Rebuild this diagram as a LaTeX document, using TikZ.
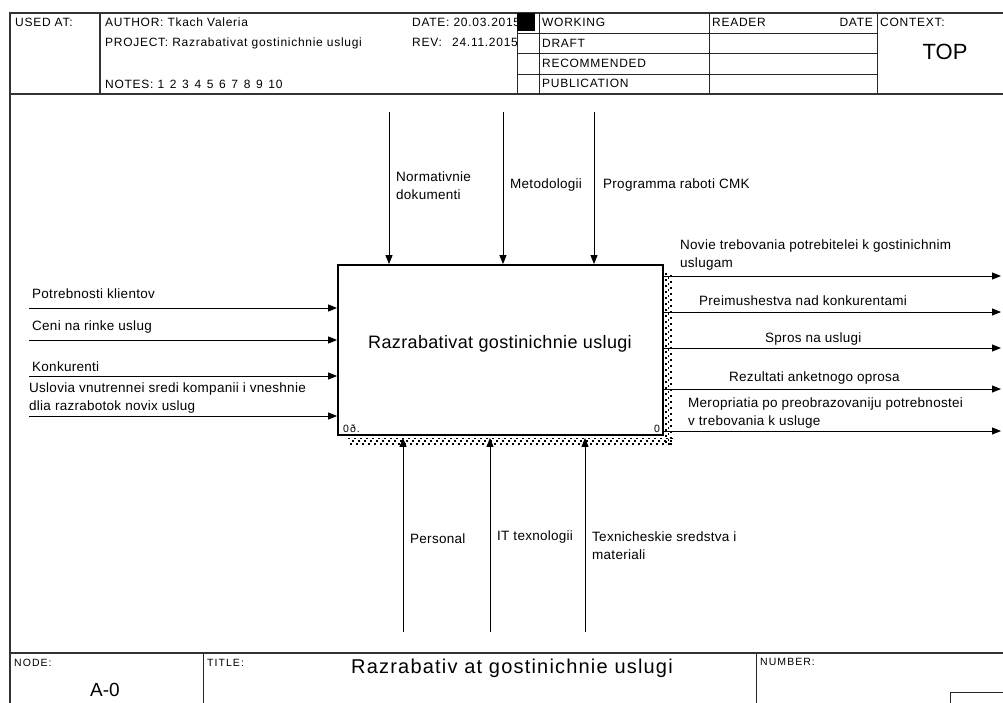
\documentclass[tikz,border=0pt]{standalone}
\usepackage{fontspec}
\setmainfont{Liberation Sans}
\usetikzlibrary{arrows.meta}
\newcommand{\nsp}{\ \hspace{1.6pt}}
\begin{document}
\begin{tikzpicture}[x=1pt,y=-1pt,
  frameline/.style={draw=black!80,line width=1.1pt},
  thinframe/.style={draw=black!85,line width=0.9pt},
  hdr/.style={inner sep=0pt,anchor=base west,font=\fontsize{12}{14}\selectfont\addfontfeature{LetterSpace=6}},
  tiny/.style={inner sep=0pt,anchor=base west,font=\fontsize{10.5}{12}\selectfont\addfontfeature{LetterSpace=10}},
  lbl/.style={inner sep=0pt,anchor=base west,font=\fontsize{13.5}{18}\selectfont\addfontfeature{LetterSpace=2}},
  lbl2/.style={inner sep=0pt,anchor=north west,align=left,font=\fontsize{13.5}{17.5}\selectfont\addfontfeature{LetterSpace=2}},
  arr/.style={-{Triangle[length=9pt,width=7pt]},line width=1pt},
  shade/.style={line width=1.6pt,dash pattern=on 2pt off 4pt}
]
\useasboundingbox (0,0) rectangle (1003,702);
% frame
\draw[frameline] (1010,13) -- (10,13) -- (10,710);
\draw[frameline] (10,94) -- (1010,94);
\draw[frameline] (100,13) -- (100,94);
\draw[thinframe] (517,13) -- (517,94);
\draw[thinframe] (539,13) -- (539,94);
\draw[thinframe] (709,13) -- (709,94);
\draw[thinframe] (877,13) -- (877,94);
\draw[thinframe] (517,33) -- (877,33);
\draw[thinframe] (517,53) -- (877,53);
\draw[thinframe] (517,74) -- (877,74);
\fill[black] (517,13) rectangle (535,31);
% header texts
\node[hdr] (usedat) at (15,26) {USED AT:};
\node[hdr] (author) at (105,26) {AUTHOR: Tkach Valeria};
\node[hdr] (project) at (105,46) {PROJECT: Razrabativat gostinichnie uslugi};
\node[hdr] (notes) at (105,88) {NOTES: 1\nsp 2\nsp 3\nsp 4\nsp 5\nsp 6\nsp 7\nsp 8\nsp 9\nsp 10};
\node[hdr] (date) at (412,26) {DATE: 20.03.2015};
\node[hdr] (rev) at (412,46) {REV:};
\node[hdr] (revd) at (452,46) {24.11.2015};
\node[hdr] (working) at (542,26) {WORKING};
\node[hdr] (draft) at (542,47) {DRAFT};
\node[hdr] (recom) at (542,67) {RECOMMENDED};
\node[hdr] (publ) at (542,87) {PUBLICATION};
\node[hdr] (reader) at (712,26) {READER};
\node[hdr,anchor=base east] (rdate) at (873,26) {DATE};
\node[hdr] (context) at (880,26) {CONTEXT:};
\node[inner sep=0pt,font=\fontsize{22}{24}\selectfont] (top) at (945,52) {TOP};
% footer
\draw[frameline] (10,653) -- (1010,653);
\draw[thinframe] (203,653) -- (203,710);
\draw[thinframe] (756,653) -- (756,710);
\draw[thinframe] (950,710) -- (950,692) -- (1010,692);
\node[tiny] (nodelbl) at (14,666) {NODE:};
\node[tiny] (titlelbl) at (207,666) {TITLE:};
\node[tiny] (numlbl) at (760,665) {NUMBER:};
\node[inner sep=0pt,font=\fontsize{19}{22}\selectfont] (a0) at (105,690) {A-0};
\node[inner sep=0pt,font=\fontsize{20}{22}\selectfont\addfontfeature{LetterSpace=6}] (ftitle) at (512,668) {Razrabativ at gostinichnie uslugi};
% shadow
\foreach \k in {0,1,2} {
  \draw[shade,dash phase=2*\k pt] (348,438.5+2.6*\k) -- (673,438.5+2.6*\k);
  \draw[shade,dash phase=2*\k pt] (666+2.6*\k,273) -- (666+2.6*\k,445);
}
% main box
\node[draw,line width=1.8pt,minimum width=325pt,minimum height=170pt,inner sep=0pt] (box) at (500.5,350) {};
\node[inner sep=0pt,font=\fontsize{18}{21}\selectfont\addfontfeature{LetterSpace=2}] (boxtitle) at (500,344) {Razrabativat gostinichnie uslugi};
\node[tiny] (boxnum) at (343,432) {0ð.};
\node[tiny] (boxnode) at (654,432) {0};
% controls
\coordinate (c1) at (389,112);
\coordinate (c2) at (503,112);
\coordinate (c3) at (594,112);
\draw[arr] (c1) -- (c1 |- box.north);
\draw[arr] (c2) -- (c2 |- box.north);
\draw[arr] (c3) -- (c3 |- box.north);
\node[lbl2] (l-c1) at (396,172) {Normativnie\\dokumenti};
\node[lbl] (l-c2) at (510,188) {Metodologii};
\node[lbl] (l-c3) at (603,188) {Programma raboti CMK};
% mechanisms
\coordinate (m1) at (403,632);
\coordinate (m2) at (490,632);
\coordinate (m3) at (585,632);
\draw[arr] (m1) -- ([yshift=-2pt]m1 |- box.south);
\draw[arr] (m2) -- ([yshift=-2pt]m2 |- box.south);
\draw[arr] (m3) -- ([yshift=-2pt]m3 |- box.south);
\node[lbl] (l-m1) at (410,543) {Personal};
\node[lbl] (l-m2) at (497,540) {IT texnologii};
\node[lbl2] (l-m3) at (592,532) {Texnicheskie sredstva i\\materiali};
% inputs
\coordinate (i1) at (29,308);
\coordinate (i2) at (29,340);
\coordinate (i3) at (29,376);
\coordinate (i4) at (29,416);
\draw[arr] (i1) -- (i1 -| box.west);
\draw[arr] (i2) -- (i2 -| box.west);
\draw[arr] (i3) -- (i3 -| box.west);
\draw[arr] (i4) -- (i4 -| box.west);
\node[lbl] (l-i1) at (32,298) {Potrebnosti klientov};
\node[lbl] (l-i2) at (32,330) {Ceni na rinke uslug};
\node[lbl] (l-i3) at (32,371) {Konkurenti};
\node[lbl2] (l-i4) at (29,383) {Uslovia vnutrennei sredi kompanii i vneshnie\\dlia razrabotok novix uslug};
% outputs
\coordinate (o1) at (1001,276);
\coordinate (o2) at (1001,312);
\coordinate (o3) at (1001,348);
\coordinate (o4) at (1001,389);
\coordinate (o5) at (1001,431);
\draw[arr] (box.east |- o1) -- (o1);
\draw[arr] (box.east |- o2) -- (o2);
\draw[arr] (box.east |- o3) -- (o3);
\draw[arr] (box.east |- o4) -- (o4);
\draw[arr] (box.east |- o5) -- (o5);
\node[lbl2] (l-o1) at (680,240) {Novie trebovania potrebitelei k gostinichnim\\uslugam};
\node[lbl] (l-o2) at (699,305) {Preimushestva nad konkurentami};
\node[lbl] (l-o3) at (765,342) {Spros na uslugi};
\node[lbl] (l-o4) at (729,381) {Rezultati anketnogo oprosa};
\node[lbl2] (l-o5) at (688,398) {Meropriatia po preobrazovaniju potrebnostei\\v trebovania k usluge};
\end{tikzpicture}
\end{document}
